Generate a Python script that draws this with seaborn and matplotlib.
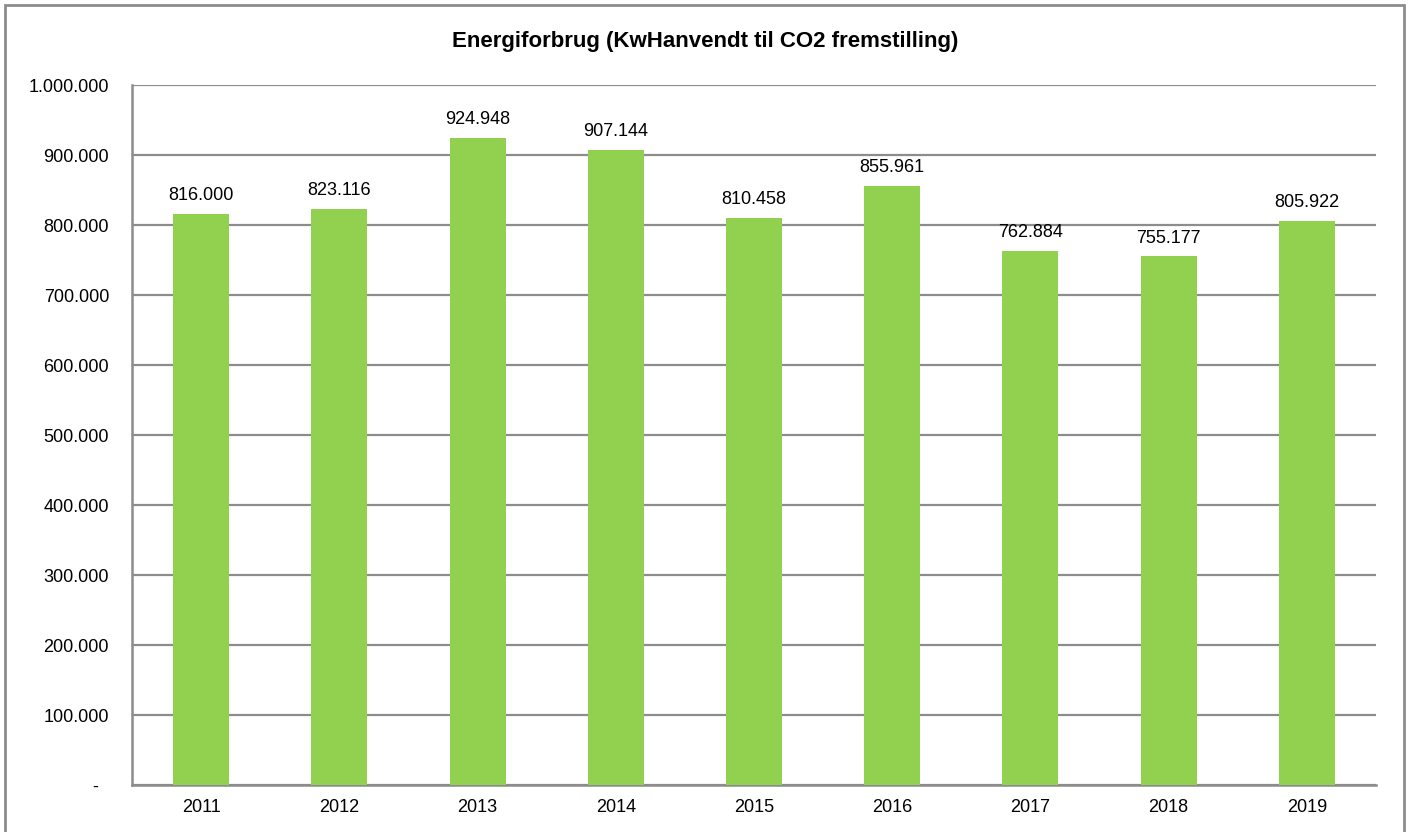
import matplotlib
matplotlib.use("Agg")
import matplotlib.pyplot as plt
from matplotlib.patches import Rectangle
from matplotlib.ticker import FuncFormatter
import seaborn as sns
import pandas as pd

years = ["2011", "2012", "2013", "2014", "2015", "2016", "2017", "2018", "2019"]
kwh = [816000, 823116, 924948, 907144, 810458, 855961, 762884, 755177, 805922]
title = "Energiforbrug (KwHanvendt til CO2 fremstilling)"

sns.set_theme(style="white")
plt.rcParams["font.family"] = ["Liberation Sans", "DejaVu Sans"]

df = pd.DataFrame({"year": years, "kwh": kwh})

fig = plt.figure(figsize=(14.10, 8.32), dpi=100)
ax = fig.add_axes([132 / 1410, 1 - 785 / 832, (1376 - 132) / 1410, (785 - 85) / 832])

sns.barplot(data=df, x="year", y="kwh", color="#92D050", saturation=1,
            width=0.405, linewidth=0, ax=ax, zorder=3)

def dk(v):
    return f"{v:,.0f}".replace(",", ".")

# Zero is shown as a dash, accounting-style, padded away from the axis
ax.set_ylim(0, 1000000)
ax.set_yticks(range(0, 1000001, 100000))
ax.yaxis.set_major_formatter(FuncFormatter(lambda v, p: "-\u2007" if v == 0 else dk(v)))
ax.grid(axis="y", color="#8c8c8c", linewidth=1.6, zorder=0)
ax.set_axisbelow(True)
ax.set_xlabel("")
ax.set_ylabel("")
ax.tick_params(axis="both", length=0, labelsize=13, colors="#000000")
ax.tick_params(axis="y", pad=16.5)
ax.tick_params(axis="x", pad=10)
for s in ["top", "right"]:
    ax.spines[s].set_visible(False)
for s in ["left", "bottom"]:
    ax.spines[s].set_color("#8c8c8c")
    ax.spines[s].set_linewidth(1.8)

for i, v in enumerate(kwh):
    ax.annotate(dk(v), (i, v), xytext=(0, 7), textcoords="offset points",
                ha="center", va="bottom", fontsize=13, color="#000000")

fig.text(705 / 1410, 1 - 42 / 832, title, ha="center", va="center",
         fontsize=16, fontweight="bold", color="#000000")

fig.patches.append(Rectangle((5 / 1410, -0.05), (1404 - 5) / 1410, 1.05 - 5 / 832,
                             transform=fig.transFigure, fill=False,
                             edgecolor="#8c8c8c", linewidth=2, zorder=10))

fig.savefig("out.png", dpi=100)
